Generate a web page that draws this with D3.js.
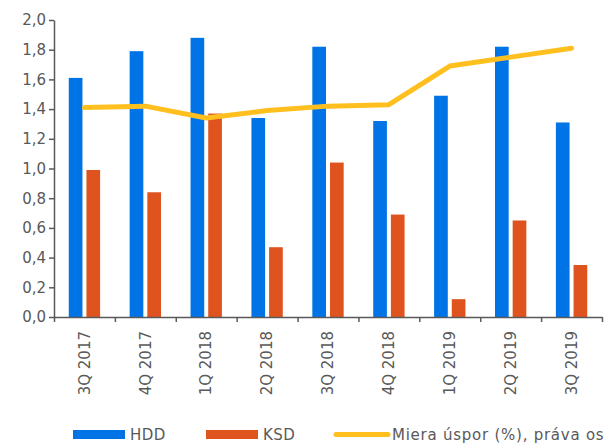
<!DOCTYPE html>
<html>
<head>
<meta charset="utf-8">
<script src="https://cdn.jsdelivr.net/npm/d3@7"></script>
<style>
  body { margin: 0; background: #fff; }
  text { font-family: "DejaVu Sans", Verdana, sans-serif; }
</style>
</head>
<body>
<div id="chart"></div>
<script>
// data
const quarters = ['3Q 2017', '4Q 2017', '1Q 2018', '2Q 2018', '3Q 2018', '4Q 2018', '1Q 2019', '2Q 2019', '3Q 2019'];
const hdd = [1.61, 1.79, 1.88, 1.34, 1.82, 1.32, 1.49, 1.82, 1.31];
const ksd = [0.99, 0.84, 1.37, 0.47, 1.04, 0.69, 0.12, 0.65, 0.35];
const savingRate = [1.41, 1.42, 1.34, 1.39, 1.42, 1.43, 1.69, 1.75, 1.81];
const yTicks = [0, 0.2, 0.4, 0.6, 0.8, 1.0, 1.2, 1.4, 1.6, 1.8, 2.0];
const seriesNames = ['HDD', 'KSD', 'Miera úspor (%), práva os'];

const colors = { HDD: '#0073e6', KSD: '#df531e', line: '#ffc01f' };
const axisColor = '#595959';

const width = 607, height = 443;
const plot = { left: 54, right: 602, top: 20, bottom: 317 };

const svg = d3.select('#chart')
  .append('svg')
  .attr('width', width)
  .attr('height', height);

const fmt = d3.formatLocale({ decimal: ',', thousands: ' ', grouping: [3], currency: ['', ''] }).format('.1f');

// scales
const x = d3.scaleBand().domain(quarters).range([plot.left, plot.right]);
const x1 = d3.scaleBand().domain(['HDD', 'KSD']).range([0, x.bandwidth()])
  .paddingInner(0.226).paddingOuter(0.836);
const y = d3.scaleLinear().domain([0, 2]).range([plot.bottom, plot.top]);

const rows = quarters.map((q, i) => ({ q: q, HDD: hdd[i], KSD: ksd[i], rate: savingRate[i] }));

// bars
const groups = svg.append('g')
  .selectAll('g')
  .data(rows)
  .enter()
  .append('g')
  .attr('transform', d => `translate(${x(d.q)},0)`);

groups.selectAll('rect')
  .data(d => ['HDD', 'KSD'].map(k => ({ key: k, value: d[k] })))
  .enter()
  .append('rect')
  .attr('x', d => x1(d.key))
  .attr('y', d => y(d.value))
  .attr('width', x1.bandwidth())
  .attr('height', d => y(0) - y(d.value))
  .attr('fill', d => colors[d.key]);

// y axis
const yAxis = svg.append('g')
  .attr('transform', `translate(${plot.left},0)`)
  .call(d3.axisLeft(y).tickValues(yTicks).tickFormat(fmt).tickSize(5).tickSizeOuter(0).tickPadding(3));

// x axis: ticks on category boundaries
const xEdge = d3.scaleLinear().domain([0, quarters.length]).range([plot.left, plot.right]);
const xAxis = svg.append('g')
  .attr('transform', `translate(0,${plot.bottom})`)
  .call(d3.axisBottom(xEdge).tickValues(d3.range(quarters.length + 1)).tickFormat('').tickSize(5).tickSizeOuter(0));

// category labels, rotated
const xLabels = svg.append('g')
  .attr('transform', `translate(0,${plot.bottom})`)
  .call(d3.axisBottom(x).tickSize(0).tickPadding(0));
xLabels.select('.domain').remove();
xLabels.selectAll('text')
  .attr('transform', 'rotate(-90)')
  .attr('text-anchor', 'end')
  .attr('dy', '0.35em')
  .attr('x', -14)
  .attr('y', 0);

[yAxis, xAxis, xLabels].forEach(a => {
  a.selectAll('.domain, line').attr('stroke', axisColor).attr('stroke-width', 1.5);
  a.selectAll('text')
    .attr('fill', axisColor)
    .style('font-size', '15px')
    .style('font-family', '"DejaVu Sans", Verdana, sans-serif');
});

// saving rate line
svg.append('path')
  .datum(rows)
  .attr('fill', 'none')
  .attr('stroke', colors.line)
  .attr('stroke-width', 5)
  .attr('stroke-linejoin', 'round')
  .attr('stroke-linecap', 'round')
  .attr('d', d3.line()
    .x(d => x(d.q) + x.bandwidth() / 2)
    .y(d => y(d.rate)));

// legend
const legend = svg.append('g');
const legendY = 434.5;

legend.append('rect')
  .attr('x', 73).attr('y', legendY - 4.5).attr('width', 52).attr('height', 9)
  .attr('fill', colors.HDD);
legend.append('text')
  .attr('x', 130).attr('y', legendY).attr('dy', '0.35em')
  .attr('fill', axisColor).style('font-size', '15px').style('letter-spacing', '0.5px')
  .text(seriesNames[0]);

legend.append('rect')
  .attr('x', 206).attr('y', legendY - 4.5).attr('width', 52).attr('height', 9)
  .attr('fill', colors.KSD);
legend.append('text')
  .attr('x', 263).attr('y', legendY).attr('dy', '0.35em')
  .attr('fill', axisColor).style('font-size', '15px').style('letter-spacing', '0.5px')
  .text(seriesNames[1]);

legend.append('line')
  .attr('x1', 336).attr('x2', 388).attr('y1', legendY).attr('y2', legendY)
  .attr('stroke', colors.line).attr('stroke-width', 5).attr('stroke-linecap', 'round');
legend.append('text')
  .attr('x', 392).attr('y', legendY).attr('dy', '0.35em')
  .attr('fill', axisColor).style('font-size', '15px').style('letter-spacing', '0.75px')
  .text(seriesNames[2]);
</script>
</body>
</html>
